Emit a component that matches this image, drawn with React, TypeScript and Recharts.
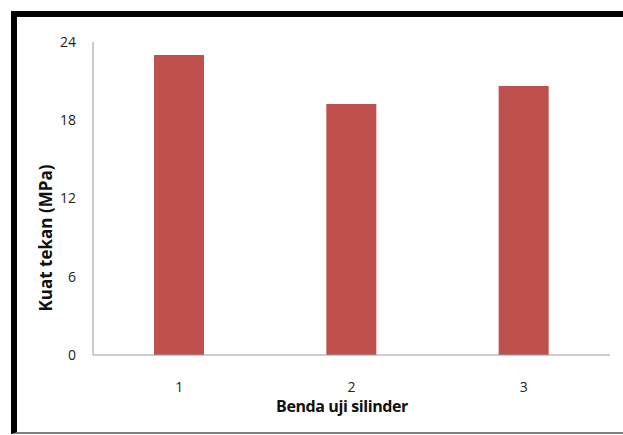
import React from 'react';
import { BarChart, Bar, XAxis, YAxis, Label } from 'recharts';

const categories = ['1', '2', '3'];
const kuatTekan = [23.0, 19.25, 20.63];
const yTicks = [0, 6, 12, 18, 24];

const data = categories.map((name, i) => ({ name, value: kuatTekan[i] }));

const FONT = '"Open Sans", sans-serif';
const BAR_COLOR = '#c0504d';
const AXIS_COLOR = '#9a9a9a';

const App: React.FC = () => {
  return (
    <div style={{ position: 'absolute', left: 0, top: 0, width: 623, height: 435, background: '#fff' }}>
      {/* frame: thick black top/left, thin grey bottom */}
      <div
        style={{
          position: 'absolute',
          left: 11,
          top: 11,
          width: 612,
          height: 423,
          boxSizing: 'border-box',
          borderTop: '6px solid #000',
          borderLeft: '6px solid #000',
          borderBottom: '2px solid #7f7f7f',
        }}
      />
      <div style={{ position: 'absolute', left: 0, top: 0 }}>
        <BarChart width={623} height={435} data={data} margin={{ top: 42, right: 13, bottom: 50, left: 0 }}>
          <XAxis
            dataKey="name"
            height={30}
            stroke={AXIS_COLOR}
            tickLine={false}
            tickSize={0}
            tickMargin={27}
            tick={{ fill: '#222', fontSize: 14, fontFamily: FONT }}
          >
            <Label
              content={() => (
                <text
                  x={342}
                  y={412}
                  textAnchor="middle"
                  fontFamily={FONT}
                  fontSize={16}
                  fontWeight="bold"
                  letterSpacing={-0.4}
                  fill="#111"
                >
                  Benda uji silinder
                </text>
              )}
            />
          </XAxis>
          <YAxis
            width={93}
            domain={[0, 24]}
            ticks={yTicks}
            stroke={AXIS_COLOR}
            tickLine={false}
            tickSize={0}
            tickMargin={17}
            tick={{ fill: '#222', fontSize: 14, fontFamily: FONT }}
          >
            <Label
              content={() => (
                <text
                  x={52}
                  y={238}
                  transform="rotate(-90 52 238)"
                  textAnchor="middle"
                  fontFamily={FONT}
                  fontSize={17}
                  fontWeight="bold"
                  fill="#111"
                >
                  Kuat tekan (MPa)
                </text>
              )}
            />
          </YAxis>
          <Bar dataKey="value" fill={BAR_COLOR} barSize={50} isAnimationActive={false} />
        </BarChart>
      </div>
    </div>
  );
};

export default App;
